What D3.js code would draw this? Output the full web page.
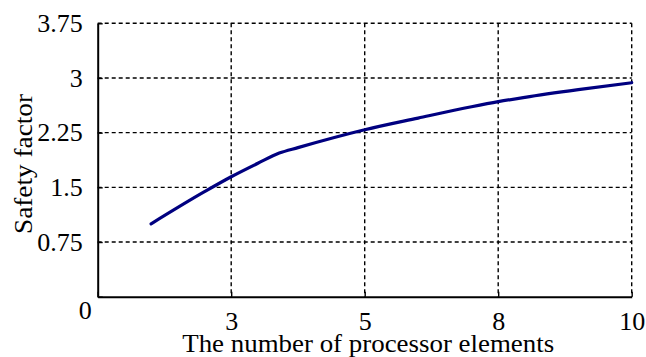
<!DOCTYPE html>
<html>
<head>
<meta charset="utf-8">
<script src="https://cdn.jsdelivr.net/npm/d3@7"></script>
<style>
  body { margin: 0; background: #fff; }
</style>
</head>
<body>
<div id="chart"></div>
<script>
// Define svg width and height
var svgWidth = 646;
var svgHeight = 357;
var serif = "'Liberation Serif'";

// Define margins (plot area)
var margin = {
  top: 23.3,
  right: 14.3,
  bottom: 60.3,
  left: 97.7
};

var width = svgWidth - margin.left - margin.right;
var height = svgHeight - margin.top - margin.bottom;

// Data
var elements = [1, 2, 2.5, 3, 3.4, 3.75, 5, 6, 7, 7.5, 8, 9, 10];
var safety = [1.0, 1.44, 1.645, 1.83, 1.97, 2.045, 2.29, 2.45, 2.605, 2.675, 2.735, 2.84, 2.935];

// Tick positions and their printed labels
var xTickValues = [0, 2.5, 5, 7.5, 10];
var xTickLabels = ["0", "3", "5", "8", "10"];
var yTickValues = [0, 0.75, 1.5, 2.25, 3, 3.75];
var yTickLabels = ["0", "0.75", "1.5", "2.25", "3", "3.75"];

var svg = d3.select("#chart")
  .append("svg")
  .attr("width", svgWidth)
  .attr("height", svgHeight);

var chartGroup = svg.append("g")
  .attr("transform", `translate(${margin.left}, ${margin.top})`);

// scales
var xScale = d3.scaleLinear().domain([0, 10]).range([0, width]);
var yScale = d3.scaleLinear().domain([0, 3.75]).range([height, 0]);

// dashed grid
chartGroup.append("g")
  .selectAll("line")
  .data(xTickValues.slice(1))
  .enter()
  .append("line")
  .attr("x1", d => xScale(d))
  .attr("x2", d => xScale(d))
  .attr("y1", 0)
  .attr("y2", height)
  .attr("stroke", "#000")
  .attr("stroke-width", 1.4)
  .attr("stroke-dasharray", "4,3");

chartGroup.append("g")
  .selectAll("line")
  .data(yTickValues.slice(1))
  .enter()
  .append("line")
  .attr("x1", 0)
  .attr("x2", width)
  .attr("y1", d => yScale(d))
  .attr("y2", d => yScale(d))
  .attr("stroke", "#000")
  .attr("stroke-width", 1.4)
  .attr("stroke-dasharray", "4,3");

// axes
var bottomAxis = d3.axisBottom(xScale)
  .tickValues(xTickValues)
  .tickSizeInner(-5)
  .tickSizeOuter(0)
  .tickPadding(15)
  .tickFormat((d, i) => i === 0 ? "" : xTickLabels[i]);

var leftAxis = d3.axisLeft(yScale)
  .tickValues(yTickValues)
  .tickSizeInner(-5)
  .tickSizeOuter(0)
  .tickPadding(15)
  .tickFormat((d, i) => i === 0 ? "" : yTickLabels[i]);

var xAxis = chartGroup.append("g")
  .attr("transform", `translate(0, ${height})`)
  .call(bottomAxis);

var yAxis = chartGroup.append("g")
  .call(leftAxis);

[xAxis, yAxis].forEach(function(ax) {
  ax.attr("font-family", null).attr("font-size", null);
  ax.select(".domain").attr("stroke", "#000").attr("stroke-width", 2);
  ax.selectAll(".tick line").attr("stroke", "#000").attr("stroke-width", 1.4);
  ax.selectAll(".tick text")
    .style("font-family", serif)
    .style("font-size", "26px")
    .attr("fill", "#000");
});

// shared corner zero
chartGroup.append("text")
  .attr("x", -12.4)
  .attr("y", height + 13.3)
  .attr("dy", "0.35em")
  .attr("text-anchor", "middle")
  .style("font-family", serif)
  .style("font-size", "26px")
  .text(xTickLabels[0]);

// the curve
var line = d3.line()
  .x((d, i) => xScale(elements[i]))
  .y(d => yScale(d))
  .curve(d3.curveMonotoneX);

chartGroup.append("path")
  .datum(safety)
  .attr("d", line)
  .attr("fill", "none")
  .attr("stroke", "#000080")
  .attr("stroke-width", 3.2)
  .attr("stroke-linecap", "round");

// axis titles
chartGroup.append("text")
  .attr("x", width / 2 + 3.5)
  .attr("y", height + 55)
  .attr("text-anchor", "middle")
  .attr("textLength", 372)
  .attr("lengthAdjust", "spacingAndGlyphs")
  .style("font-family", serif)
  .style("font-size", "26px")
  .text("The number of processor elements");

chartGroup.append("text")
  .attr("transform", "rotate(-90)")
  .attr("x", -(height / 2) - 4)
  .attr("y", -66)
  .attr("text-anchor", "middle")
  .attr("textLength", 140)
  .attr("lengthAdjust", "spacingAndGlyphs")
  .style("font-family", serif)
  .style("font-size", "26px")
  .text("Safety factor");
</script>
</body>
</html>
